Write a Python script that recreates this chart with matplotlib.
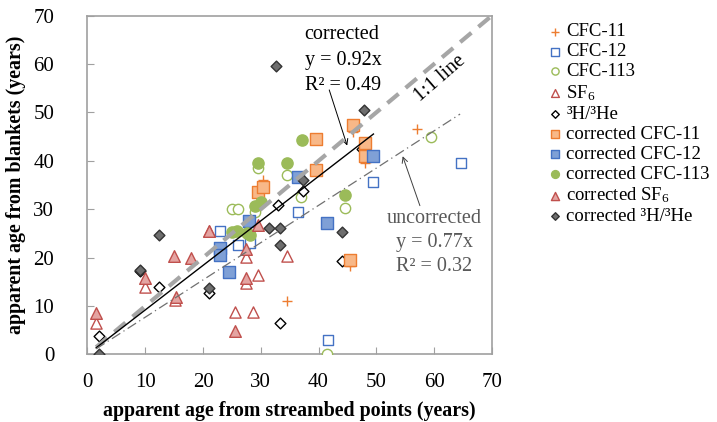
import matplotlib.pyplot as plt

plt.rcParams['font.family'] = ['Liberation Serif', 'DejaVu Serif']
plt.rcParams['mathtext.fontset'] = 'custom'
plt.rcParams['mathtext.rm'] = 'Liberation Serif'
plt.rcParams['mathtext.it'] = 'Liberation Serif:italic'

# apparent ages: streambed points (x) vs blankets (y), years
cfc11_x = [30.4, 34.6, 46.0, 48.0, 45.5, 57.0]
cfc11_y = [36.0, 11.0, 46.0, 39.6, 18.2, 46.6]

cfc12_x = [22.9, 26.1, 28.1, 36.5, 49.5, 64.6, 41.6]
cfc12_y = [25.5, 22.6, 23.0, 29.5, 35.6, 39.6, 3.0]

cfc113_x = [25.0, 26.1, 29.0, 29.6, 34.5, 36.9, 44.6, 59.4, 41.5]
cfc113_y = [30.0, 30.0, 29.5, 38.5, 37.1, 32.6, 30.2, 45.0, 0.0]

sf6_x = [1.5, 10.0, 15.2, 21.0, 25.5, 28.6, 27.5, 27.5, 29.6, 34.6]
sf6_y = [6.4, 13.9, 11.3, 25.5, 8.8, 8.8, 20.2, 14.7, 16.4, 20.4]

he_x = [2.0, 9.1, 12.4, 21.0, 32.9, 37.3, 44.0, 33.4, 47.5]
he_y = [3.8, 17.2, 13.9, 12.8, 30.9, 33.8, 19.3, 6.4, 42.5]

c_cfc11_x = [29.6, 30.4, 39.5, 39.5, 46.0, 48.0, 48.0, 45.5]
c_cfc11_y = [33.6, 34.6, 44.5, 38.1, 47.4, 43.6, 41.0, 19.5]

c_cfc12_x = [22.9, 22.9, 24.5, 28.0, 36.5, 41.5, 49.5]
c_cfc12_y = [21.9, 20.5, 17.0, 27.5, 36.7, 27.1, 41.0]

c_cfc113_x = [29.6, 34.6, 37.1, 44.6, 29.0, 30.0, 25.0, 25.9, 27.6, 28.2]
c_cfc113_y = [39.5, 39.6, 44.4, 33.0, 30.7, 31.5, 25.2, 25.6, 25.0, 24.6]

c_sf6_x = [1.5, 10.0, 15.0, 17.9, 21.0, 15.4, 27.5, 27.5, 25.5, 29.6]
c_sf6_y = [8.5, 15.9, 20.4, 19.9, 25.6, 11.8, 21.8, 15.9, 4.9, 26.8]

c_he_x = [32.7, 47.8, 37.3, 31.5, 33.4, 33.4, 44.0, 12.4, 9.1, 21.0, 2.0]
c_he_y = [59.6, 50.5, 36.0, 26.1, 26.1, 22.6, 25.2, 24.7, 17.4, 13.7, 0.0]

slope_corr = 0.92
slope_uncorr = 0.77

orange = '#ED7D31'
blue = '#4472C4'
green = '#9BBB59'
red = '#C0504D'

fig, ax = plt.subplots(figsize=(7.17, 4.22), dpi=100)
fig.subplots_adjust(left=0.122, right=0.686, bottom=0.160, top=0.963)

ax.scatter(cfc11_x, cfc11_y, marker='+', s=60, color=orange, linewidths=1.0, label='CFC-11', zorder=3)
ax.scatter(cfc12_x, cfc12_y, marker='s', s=55, facecolors='white', edgecolors=blue, linewidths=1.0, label='CFC-12', zorder=3)
ax.scatter(cfc113_x, cfc113_y, marker='o', s=55, facecolors='white', edgecolors=green, linewidths=1.0, label='CFC-113', zorder=3)
ax.scatter(sf6_x, sf6_y, marker='^', s=65, facecolors='white', edgecolors=red, linewidths=1.0, label='SF$_6$', zorder=3)
ax.scatter(he_x, he_y, marker='D', s=30, facecolors='white', edgecolors='black', linewidths=1.0, label='³H/³He', zorder=3)
ax.scatter(c_cfc11_x, c_cfc11_y, marker='s', s=65, facecolors='#F8B888', edgecolors=orange, linewidths=1.0, label='corrected CFC-11', zorder=4)
ax.scatter(c_cfc12_x, c_cfc12_y, marker='s', s=65, facecolors='#7FA0D6', edgecolors=blue, linewidths=1.0, label='corrected CFC-12', zorder=4)
ax.scatter(c_cfc113_x, c_cfc113_y, marker='o', s=65, facecolors=green, edgecolors=green, linewidths=1.0, label='corrected CFC-113', zorder=4)
ax.scatter(c_sf6_x, c_sf6_y, marker='^', s=70, facecolors='#E4A4A2', edgecolors=red, linewidths=1.0, label='corrected SF$_6$', zorder=4)
ax.scatter(c_he_x, c_he_y, marker='D', s=30, facecolors='#6E6E6E', edgecolors='#333333', linewidths=1.0, label='corrected ³H/³He', zorder=4)

# 1:1 line and the two regression lines
ax.plot([1.5, 70], [1.5, 70], color='#A6A6A6', lw=3, dashes=(3.5, 2.2), zorder=5)
ax.plot([1.5, 49.5], [1.5 * slope_corr, 49.5 * slope_corr], color='black', lw=1.0, zorder=5)
ax.plot([1.5, 64.5], [1.5 * slope_uncorr, 64.5 * slope_uncorr], color='#707070', lw=0.9,
        dashes=(8, 3, 1, 3), zorder=5)

ax.text(61.0, 57.1, '1:1 line', rotation=41, ha='center', va='center', fontsize=14.5, color='black')

ax.text(37.6, 68.0, 'corrected\ny = 0.92x\nR² = 0.49', ha='left', va='top', fontsize=14.5,
        linespacing=1.45, color='black')
ax.annotate('', xy=(45.1, 42.6), xytext=(41.7, 55.2),
            arrowprops=dict(arrowstyle='->', color='black', lw=0.7, mutation_scale=10))

ax.text(60.0, 30.0, 'uncorrected\ny = 0.77x\nR² = 0.32', ha='center', va='top', fontsize=14.5,
        linespacing=1.35, color='#595959')
ax.annotate('', xy=(54.4, 41.5), xytext=(57.7, 30.2),
            arrowprops=dict(arrowstyle='->', color='#404040', lw=0.7, mutation_scale=10))

ax.set_xlim(0, 70)
ax.set_ylim(0, 70)
ax.set_xticks(range(0, 71, 10))
ax.set_yticks(range(0, 71, 10))
ax.tick_params(direction='in', length=5, color='#A0A0A0', labelsize=15)
ax.tick_params(axis='x', pad=13)
ax.tick_params(axis='y', pad=24)
for sp in ax.spines.values():
    sp.set_color('#A0A0A0')
    sp.set_linewidth(1.2)

ax.set_xlabel('apparent age from streambed points (years)', fontsize=14.4, fontweight='bold', labelpad=7)
ax.set_ylabel('apparent age from blankets (years)', fontsize=14.4, fontweight='bold', labelpad=5)

fig.legend(loc='upper left', bbox_to_anchor=(541 / 717, 1 - 14 / 422), frameon=False,
           fontsize=13.5, markerscale=0.7, handlelength=0.5, handletextpad=0.35, labelspacing=0.15,
           borderpad=0)

plt.savefig('out.png', dpi=100)
